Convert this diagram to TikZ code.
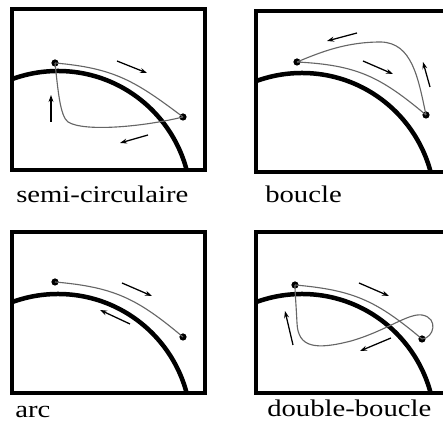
\documentclass[tikz,border=0pt]{standalone}
\usepackage{fontspec}
\newfontfamily\tagfont{Liberation Serif}[FakeStretch=1.2]
\usetikzlibrary{arrows.meta}

\begin{document}
\begin{tikzpicture}[x=0.25cm,y=0.25cm,
  frame/.style={line width=3.4pt},
  ground/.style={line width=3.2pt},
  track/.style={black!60,line width=0.8pt},
  dir/.style={line width=0.9pt,-{Stealth[length=5pt,width=3.5pt]}},
  spot/.style={circle,fill,inner sep=0pt,minimum size=1.8mm},
  tag/.style={anchor=base west,inner sep=0pt,font=\tagfont\fontsize{17}{20}\selectfont}]

\useasboundingbox (0,0) rectangle (44.3,42.2);

% semi-circulaire
\begin{scope}[shift={(1.2,25.2)}]
\begin{scope}
\clip (0,0) rectangle (19.3,16.1);
\draw[ground] (4.6,-3.4) circle (13.3);
\end{scope}
\draw[frame] (0,0) rectangle (19.3,16.1);
\node[spot] (a1) at (4.3,10.7) {};
\node[spot] (b1) at (17.1,5.3) {};
\draw[track] (a1.center) to[out=-5,in=143,looseness=1.1] (b1.center);
\draw[track] (b1.center) .. controls (13,4.3) and (7.2,3.8) .. (5.6,4.8)
  .. controls (4.8,5.4) and (4.6,8) .. (a1.center);
\draw[dir] (10.5,10.9) -- (13.5,9.7);
\draw[dir] (3.9,4.8) -- (3.9,7.5);
\draw[dir] (13.6,3.5) -- (10.8,2.7);
\node[tag] (t1) at (0.4,-3.3) {semi-circulaire};
\end{scope}

% boucle
\begin{scope}[shift={(25.6,25.0)}]
\begin{scope}
\clip (0,0) rectangle (19.3,16.1);
\draw[ground] (4.6,-3.4) circle (13.3);
\end{scope}
\draw[frame] (0,0) rectangle (19.3,16.1);
\node[spot] (a2) at (4.1,11.0) {};
\node[spot] (b2) at (17.0,5.7) {};
\draw[track] (a2.center) to[out=-3,in=140,looseness=1.1] (b2.center);
\draw[track] (b2.center) .. controls (16.2,9.5) and (15.6,12.9) .. (12.5,13.0)
  .. controls (9,13.0) and (6.5,12.0) .. (a2.center);
\draw[dir] (10.1,13.9) -- (7.1,13.1);
\draw[dir] (10.7,11.1) -- (13.7,9.8);
\draw[dir] (17.4,8.5) -- (16.7,11.0);
\node[tag] (t2) at (0.9,-3.1) {boucle};
\end{scope}

% arc
\begin{scope}[shift={(1.2,2.9)}]
\begin{scope}
\clip (0,0) rectangle (19.3,16.1);
\draw[ground] (4.6,-3.4) circle (13.3);
\end{scope}
\draw[frame] (0,0) rectangle (19.3,16.1);
\node[spot] (a3) at (4.3,11.1) {};
\node[spot] (b3) at (17.1,5.6) {};
\draw[track] (a3.center) to[out=-5,in=140,looseness=1.1] (b3.center);
\draw[dir] (11.0,11.0) -- (14.0,9.7);
\draw[dir] (11.8,6.9) -- (8.8,8.3);
\node[tag] (t3) at (0.3,-2.45) {arc};
\end{scope}

% double-boucle
\begin{scope}[shift={(25.6,2.9)}]
\begin{scope}
\clip (0,0) rectangle (19.3,16.1);
\draw[ground] (4.6,-3.4) circle (13.3);
\end{scope}
\draw[frame] (0,0) rectangle (19.3,16.1);
\node[spot] (a4) at (3.9,10.8) {};
\node[spot] (b4) at (16.6,5.4) {};
\draw[track] (a4.center) to[out=-5,in=140,looseness=1.1] (b4.center);
\draw[track] (b4.center) .. controls (17.8,5.5) and (18.3,7.5) .. (16.6,7.8)
  .. controls (15.2,8.0) and (13,6.2) .. (9.5,5.2)
  .. controls (6,4.3) and (4.2,4.5) .. (4.1,7)
  .. controls (4.0,9) and (3.9,10) .. (a4.center);
\draw[dir] (10.3,11.0) -- (13.3,9.7);
\draw[dir] (13.5,5.5) -- (10.4,4.2);
\draw[dir] (3.7,4.8) -- (2.9,8.2);
\node[tag] (t4) at (1.1,-2.4) {double-boucle};
\end{scope}
\end{tikzpicture}
\end{document}
